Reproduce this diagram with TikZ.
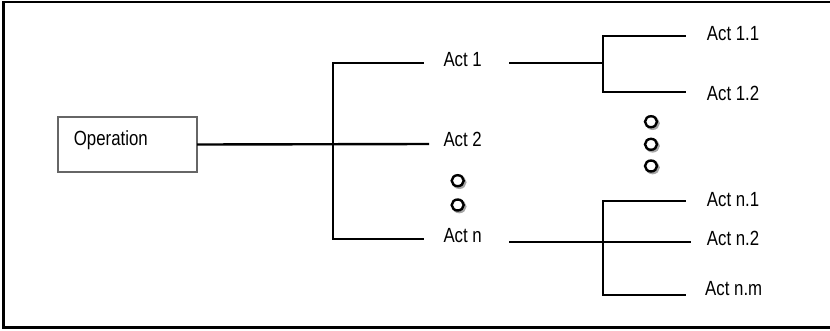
\documentclass[tikz,border=0pt]{standalone}
\usepackage{fontspec}
\setmainfont{Liberation Sans}[FakeStretch=0.82]
\begin{document}
\begin{tikzpicture}[x=1pt,y=-1pt,
  ln/.style={line width=2.4pt,line cap=rect},
  lbl/.style={anchor=base west,inner sep=0pt,font=\fontsize{20.5}{24}\selectfont},
  opbox/.style={draw=black!60,line width=2.4pt,inner sep=0pt},
  dotc/.style={draw=black,fill=white,line width=2.4pt},
  dots/.style={draw=black!35,line width=2.4pt}]
\useasboundingbox (0,0) rectangle (830,330);
% frame (right side beyond the picture)
\draw[line width=2.6pt] (840,1.8) -- (3.3,1.8) -- (3.3,327.6) -- (840,327.6);
% operation box
\node[opbox,minimum width=139pt,minimum height=55pt] (op) at (127.5,144.5) {};
\node[lbl] (optxt) at (73.7,145.7) {Operation};
% level-1 labels
\node[lbl] (a1) at (443.3,66.7) {Act 1};
\node[lbl] (a2) at (443.3,146) {Act 2};
\node[lbl] (an) at (443.3,242.7) {Act n};
% level-2 labels
\node[lbl] (a11) at (706.7,40.7) {Act 1.1};
\node[lbl] (a12) at (706.7,100) {Act 1.2};
\node[lbl] (an1) at (706.7,206.7) {Act n.1};
\node[lbl] (an2) at (706.7,245) {Act n.2};
\node[lbl] (anm) at (705,295.7) {Act n.m};
% coordinates
\coordinate (t1) at (333,63);
\coordinate (t2) at (333,144);
\coordinate (tn) at (333,239);
\coordinate (e1) at (423,63);
\coordinate (e2) at (428,144);
\coordinate (en) at (423,239);
\coordinate (s1) at (510,63);
\coordinate (b1) at (603,63);
\coordinate (b11) at (603,36);
\coordinate (b12) at (603,92);
\coordinate (f11) at (685,36);
\coordinate (f12) at (685,92);
\coordinate (sn) at (510,242);
\coordinate (bn) at (603,242);
\coordinate (bn1) at (603,201);
\coordinate (bnm) at (603,295);
\coordinate (fn1) at (685,201);
\coordinate (fn2) at (690,242);
\coordinate (fnm) at (685,295);
% connectors
\draw[ln] (op.east) -- (e2);
\draw[ln] (e1) -- (t1) -- (tn) -- (en);
\draw[ln] (s1) -- (b1);
\draw[ln] (f11) -- (b11) -- (b12) -- (f12);
\draw[ln] (sn) -- (fn2);
\draw[ln] (fn1) -- (bn1) -- (bnm) -- (fnm);
% ellipsis circles
\coordinate (c1) at (457.7,180.7);
\coordinate (c2) at (457.7,205);
\coordinate (c3) at (651,121.7);
\coordinate (c4) at (651,144.3);
\coordinate (c5) at (651,166);
\foreach \n in {c1,c2,c3,c4,c5}{
  \draw[dots] ([shift={(1.6,1.6)}]\n) ellipse [x radius=6pt,y radius=5.5pt];
  \path[dotc] (\n) ellipse [x radius=6pt,y radius=5.5pt];
}
\end{tikzpicture}
\end{document}
